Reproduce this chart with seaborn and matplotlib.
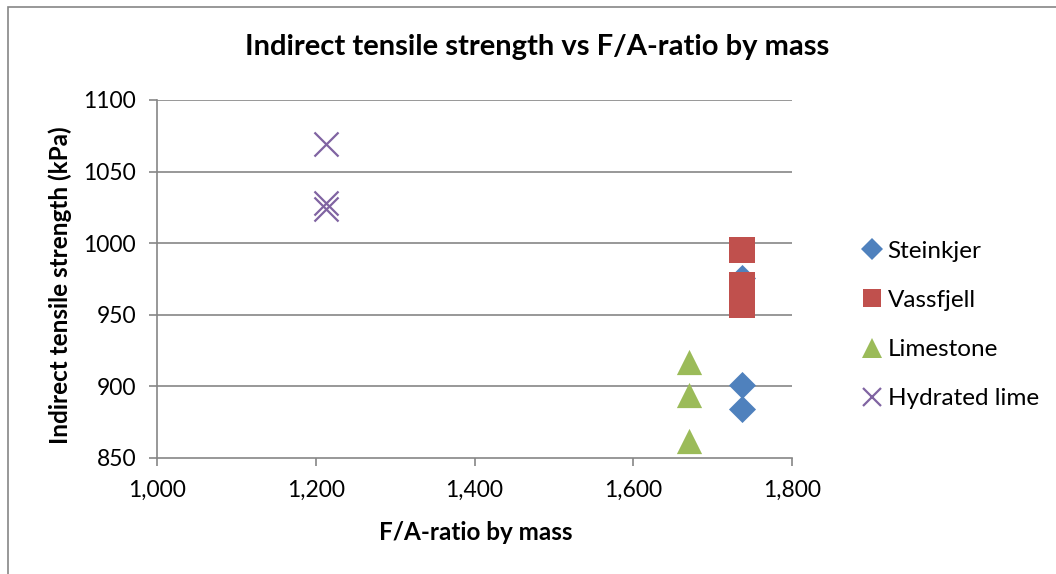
import matplotlib
matplotlib.use("Agg")
import matplotlib.pyplot as plt
import seaborn as sns
import pandas as pd
from matplotlib.ticker import FuncFormatter, MultipleLocator
from matplotlib.patches import Rectangle
from matplotlib.lines import Line2D

# ---- data ----
series_names = ["Steinkjer", "Vassfjell", "Limestone", "Hydrated lime"]
steinkjer_x = [1737, 1737, 1737]
steinkjer_y = [976, 901, 884]
vassfjell_x = [1737, 1737, 1737, 1737]
vassfjell_y = [995, 971, 964, 957]
limestone_x = [1670, 1670, 1670]
limestone_y = [917, 894, 862]
hydrated_x = [1213, 1213, 1213]
hydrated_y = [1069, 1028, 1024]

colors = {"Steinkjer": "#4F81BD", "Vassfjell": "#C0504D",
          "Limestone": "#9BBB59", "Hydrated lime": "#8064A2"}
markers = {"Steinkjer": "D", "Vassfjell": "s", "Limestone": "^", "Hydrated lime": "x"}
sizes = {"Steinkjer": 190, "Vassfjell": 330, "Limestone": 330, "Hydrated lime": 300}

frames = []
for name, xs, ys in [("Steinkjer", steinkjer_x, steinkjer_y),
                     ("Vassfjell", vassfjell_x, vassfjell_y),
                     ("Limestone", limestone_x, limestone_y),
                     ("Hydrated lime", hydrated_x, hydrated_y)]:
    frames.append(pd.DataFrame({"x": xs, "y": ys, "series": name}))
df = pd.concat(frames, ignore_index=True)

sns.set_theme(style="white")
plt.rcParams["font.family"] = ["Lato", "DejaVu Sans"]
plt.rcParams["text.color"] = "black"
plt.rcParams["axes.labelcolor"] = "black"

fig = plt.figure(figsize=(10.56, 5.74), dpi=100)
ax = fig.add_axes([157/1056, 1 - 458/574, (792-157)/1056, (458-100)/574])

# chart border
fig.patches.append(Rectangle((8/1056, -0.1), 1.2, (574-7.5)/574 + 0.1,
                             transform=fig.transFigure, fill=False,
                             edgecolor="#868686", linewidth=1.2))

grid_color = "#868686"
for yv in [900, 950, 1000, 1050, 1100]:
    ax.axhline(yv, color=grid_color, linewidth=1.2, zorder=0)

for name in series_names:
    sub = df[df["series"] == name]
    if markers[name] == "x":
        sns.scatterplot(data=sub, x="x", y="y", ax=ax, color=colors[name],
                        marker="x", s=sizes[name], linewidth=1.6, zorder=3,
                        legend=False)
    else:
        sns.scatterplot(data=sub, x="x", y="y", ax=ax, color=colors[name],
                        marker=markers[name], s=sizes[name], linewidth=0,
                        zorder=3, legend=False)

ax.set_xlim(1000, 1800)
ax.set_ylim(850, 1100)
ax.xaxis.set_major_locator(MultipleLocator(200))
ax.yaxis.set_major_locator(MultipleLocator(50))
ax.xaxis.set_major_formatter(FuncFormatter(lambda v, p: f"{int(v):,}"))

for side in ["top", "right"]:
    ax.spines[side].set_visible(False)
for side in ["left", "bottom"]:
    ax.spines[side].set_color(grid_color)
    ax.spines[side].set_linewidth(1.2)

ax.tick_params(axis="both", which="major", direction="out", length=6,
               width=1.2, color=grid_color, labelsize=16.5, labelcolor="black",
               bottom=True, left=True)
ax.tick_params(axis="x", pad=10)
ax.tick_params(axis="y", pad=9)

ax.set_xlabel("F/A-ratio by mass", fontsize=17.5, fontweight="bold")
ax.set_ylabel("Indirect tensile strength (kPa)", fontsize=17.5, fontweight="bold")
ax.xaxis.label.set_va("center")
ax.xaxis.set_label_coords((476-157)/635, (458-533)/358)
ax.yaxis.label.set_va("center")
ax.yaxis.label.set_ha("center")
ax.yaxis.set_label_coords((60-157)/635, (458-285)/358)

fig.text(537/1056, 1 - 47/574, "Indirect tensile strength vs F/A-ratio by mass",
         ha="center", va="center", fontsize=21, fontweight="bold")

handles = []
for name in series_names:
    if markers[name] == "x":
        h = Line2D([], [], linestyle="none", marker="x", color=colors[name],
                   markersize=13, markeredgewidth=1.6)
    else:
        ms = {"D": 11, "s": 13, "^": 14}[markers[name]]
        h = Line2D([], [], linestyle="none", marker=markers[name],
                   color=colors[name], markersize=ms, markeredgewidth=0)
    handles.append(h)
fig.legend(handles, series_names, loc="center left",
           bbox_to_anchor=(845/1056, 1 - 325/574), frameon=False,
           fontsize=17.5, handletextpad=0.05, labelspacing=1.16,
           handlelength=1.2, borderpad=0)

fig.savefig("out.png", dpi=100)
